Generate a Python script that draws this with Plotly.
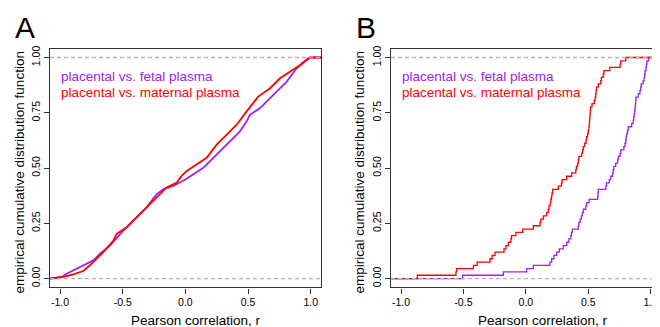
import plotly.graph_objects as go

# The page body has an 8px margin, so the figure is 8px smaller and all
# reference pixel positions are shifted by -8.
OFF = 8
W, H = 660 - OFF, 327 - OFF
PURPLE = "#A020F0"
RED = "#FF0000"
FONT = "Liberation Sans"

# ---------------- data ----------------
# Panel A: empirical CDF at knots (r, F)
a_fetal_r = [-0.987, -0.947, -0.867, -0.787, -0.734, -0.681, -0.600, -0.495, -0.415, -0.310,
             -0.229, -0.176, -0.096, -0.016, 0.064, 0.144, 0.223, 0.303, 0.383, 0.436,
             0.489, 0.516, 0.596, 0.649, 0.729, 0.809, 0.888, 0.955, 0.995]
a_fetal_F = [0.007, 0.022, 0.045, 0.067, 0.082, 0.112, 0.150, 0.217, 0.262, 0.322,
             0.382, 0.404, 0.419, 0.442, 0.472, 0.501, 0.546, 0.591, 0.636, 0.666,
             0.711, 0.741, 0.771, 0.801, 0.846, 0.891, 0.951, 0.981, 1.000]
a_maternal_r = [-0.973, -0.894, -0.814, -0.761, -0.707, -0.654, -0.574, -0.548, -0.468, -0.388,
                -0.310, -0.229, -0.149, -0.069, -0.029, 0.011, 0.090, 0.170, 0.250, 0.330,
                0.410, 0.489, 0.582, 0.676, 0.755, 0.835, 0.915, 0.980, 1.000]
a_maternal_F = [0.007, 0.019, 0.034, 0.060, 0.090, 0.120, 0.172, 0.202, 0.232, 0.277,
                0.322, 0.367, 0.412, 0.434, 0.464, 0.487, 0.516, 0.546, 0.606, 0.651,
                0.696, 0.756, 0.823, 0.861, 0.906, 0.936, 0.966, 0.996, 1.000]

# Panel B: correlation values (one per step of the ECDF)
b_fetal = [-0.506, -0.18, 0.007, 0.06, 0.193, 0.207, 0.225, 0.247, 0.268, 0.30,
           0.327, 0.345, 0.36, 0.365, 0.372, 0.42, 0.425, 0.435, 0.445, 0.452,
           0.46, 0.48, 0.487, 0.507, 0.575, 0.578, 0.58, 0.64, 0.646, 0.668,
           0.68, 0.695, 0.70, 0.705, 0.72, 0.735, 0.74, 0.755, 0.76, 0.785,
           0.794, 0.80, 0.804, 0.808, 0.815, 0.82, 0.848, 0.86, 0.864, 0.868,
           0.872, 0.875, 0.878, 0.88, 0.882, 0.90, 0.914, 0.92, 0.924, 0.94,
           0.947, 0.952, 0.955, 0.962, 0.966, 0.97, 0.983]
b_maternal = [-0.87, -0.56, -0.555, -0.42, -0.39, -0.287, -0.27, -0.247, -0.175, -0.16,
              -0.14, -0.12, -0.115, -0.08, -0.025, 0.06, 0.114, 0.12, 0.14, 0.167,
              0.18, 0.185, 0.195, 0.20, 0.205, 0.21, 0.215, 0.26, 0.285, 0.29,
              0.327, 0.367, 0.40, 0.405, 0.415, 0.42, 0.425, 0.447, 0.455, 0.46,
              0.47, 0.482, 0.487, 0.495, 0.50, 0.505, 0.508, 0.51, 0.512, 0.514,
              0.516, 0.518, 0.53, 0.548, 0.555, 0.56, 0.563, 0.566, 0.58, 0.60,
              0.605, 0.62, 0.625, 0.672, 0.755, 0.76, 0.80]

x_ticks = [-1.0, -0.5, 0.0, 0.5, 1.0]
x_ticklabels = ["-1.0", "-0.5", "0.0", "0.5", "1.0"]
y_ticks = [0.0, 0.25, 0.5, 0.75, 1.0]
y_ticklabels = ["0.00", "0.25", "0.50", "0.75", "1.00"]
legend_labels = ["placental vs. fetal plasma", "placental vs. maternal plasma"]
x_title = "Pearson correlation, r"
y_title = "empirical cumulative distribution function"
panel_letters = ["A", "B"]

XR_A = [-1.0798, 1.0822]
XR_B = [-1.0801, 1.0745]
YR = [-0.04, 1.04]


def ecdf_steps(values, lo, hi):
    v = sorted(values)
    n = len(v)
    xs = [lo] + v + [hi]
    ys = [0.0] + [(i + 1) / n for i in range(n)] + [1.0]
    return xs, ys


def px(x):
    return (x - OFF) / W


def py(y):
    return 1 - (y - OFF) / H


fig = go.Figure()

# Panel A
fig.add_trace(go.Scatter(x=[XR_A[0]] + a_fetal_r + [XR_A[1]], y=[0.0] + a_fetal_F + [1.0],
                         mode="lines", line=dict(color=PURPLE, width=1.8),
                         xaxis="x", yaxis="y", showlegend=False))
fig.add_trace(go.Scatter(x=[XR_A[0]] + a_maternal_r + [XR_A[1]], y=[0.0] + a_maternal_F + [1.0],
                         mode="lines", line=dict(color=RED, width=1.8),
                         xaxis="x", yaxis="y", showlegend=False))

# Panel B
fx, fy = ecdf_steps(b_fetal, XR_B[0], XR_B[1])
mx, my = ecdf_steps(b_maternal, XR_B[0], XR_B[1])
fig.add_trace(go.Scatter(x=fx, y=fy, mode="lines", line=dict(color=PURPLE, width=1.3, shape="hv"),
                         xaxis="x2", yaxis="y2", showlegend=False))
fig.add_trace(go.Scatter(x=mx, y=my, mode="lines", line=dict(color=RED, width=1.3, shape="hv"),
                         xaxis="x2", yaxis="y2", showlegend=False))

axis_common = dict(
    showgrid=False, zeroline=False, showline=True, linecolor="#333333", linewidth=1.3,
    ticks="outside", ticklen=5, tickwidth=1, tickcolor="#333333",
    tickfont=dict(family=FONT, size=10.5, color="#000000"),
)
ydom = [py(287), py(46)]
fig.update_layout(
    width=W, height=H, margin=dict(l=0, r=0, t=0, b=0),
    paper_bgcolor="white", plot_bgcolor="white",
    xaxis=dict(domain=[px(50), px(321)], range=XR_A, tickvals=x_ticks, ticktext=x_ticklabels,
               mirror=True, anchor="y", **axis_common),
    yaxis=dict(domain=ydom, range=YR, tickvals=y_ticks, ticktext=y_ticklabels,
               tickangle=-90, mirror=True, anchor="x", **axis_common),
    xaxis2=dict(domain=[px(391), 1.0], range=XR_B, tickvals=x_ticks, ticktext=x_ticklabels,
                mirror=True, anchor="y2", **axis_common),
    yaxis2=dict(domain=ydom, range=YR, tickvals=y_ticks, ticktext=y_ticklabels,
                tickangle=-90, mirror=False, anchor="x2", **axis_common),
)

shapes = []
for xr, yr in (("x domain", "y"), ("x2 domain", "y2")):
    for yv in (0.0, 1.0):
        shapes.append(dict(type="line", xref=xr, yref=yr, x0=0, x1=1, y0=yv, y1=yv,
                           line=dict(color="#B3B3B3", width=1.3, dash="4px,3px"), layer="above"))
fig.update_layout(shapes=shapes)

ann = []
for letter, (lx, xr, yr, tx, ty) in zip(panel_letters, [(13, "x", "y", 196, 19), (354, "x2", "y2", 543, 359)]):
    ann.append(dict(text=letter, xref="paper", yref="paper", x=px(lx), y=py(24),
                    xanchor="left", yanchor="middle", valign="middle", height=28,
                    showarrow=False, font=dict(family=FONT, size=30, color="black")))
    ann.append(dict(text=x_title, xref="paper", yref="paper", x=px(tx), y=py(320),
                    xanchor="center", yanchor="middle", showarrow=False,
                    font=dict(family=FONT, size=13.5, color="black")))
    ann.append(dict(text=y_title, xref="paper", yref="paper", x=px(ty), y=py(171),
                    xanchor="center", yanchor="middle", showarrow=False, textangle=-90,
                    font=dict(family=FONT, size=13.5, color="black")))
    for lab, col, yv in zip(legend_labels, [PURPLE, RED], [0.913, 0.84]):
        ann.append(dict(text=lab, xref=xr, yref=yr, x=-1.01, y=yv, xanchor="left", yanchor="middle",
                        showarrow=False, font=dict(family=FONT, size=13.5, color=col)))
fig.update_layout(annotations=ann)

fig.write_html("out.html")
